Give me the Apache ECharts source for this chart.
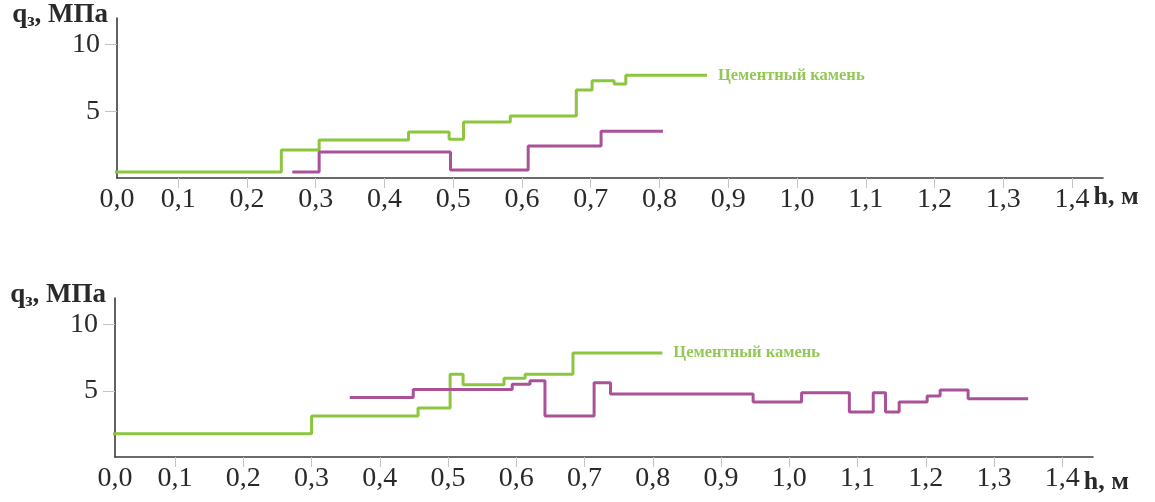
<!DOCTYPE html>
<html>
<head>
<meta charset="utf-8">
<script src="https://cdn.jsdelivr.net/npm/echarts@6/dist/echarts.min.js"></script>
<style>
  html, body { margin: 0; padding: 0; background: #fff; }
  #chart { width: 1155px; height: 502px; }
</style>
</head>
<body>
<div id="chart"></div>
<script>
// Step profiles: edges along h (m) and the pressure level (MPa) held between edges.
const topGreenEdges = [0, 0.25, 0.305, 0.435, 0.494, 0.515, 0.583, 0.679, 0.702, 0.734, 0.751, 0.869];
const topGreenLevels = [0.45, 2.1, 2.85, 3.45, 2.9, 4.2, 4.65, 6.6, 7.3, 7.05, 7.7];
const topPurpleEdges = [0.266, 0.305, 0.496, 0.609, 0.715, 0.805];
const topPurpleLevels = [0.45, 1.95, 0.6, 2.4, 3.5];

const botGreenEdges = [0, 0.30, 0.456, 0.503, 0.522, 0.582, 0.613, 0.683, 0.814];
const botGreenLevels = [1.75, 3.1, 3.7, 6.25, 5.45, 5.95, 6.25, 7.85];
const botPurpleEdges = [0.356, 0.449, 0.594, 0.62, 0.642, 0.714, 0.738, 0.947, 1.018, 1.088, 1.123, 1.141, 1.161, 1.202, 1.221, 1.262, 1.35];
const botPurpleLevels = [4.5, 5.1, 5.5, 5.75, 3.1, 5.6, 4.75, 4.15, 4.85, 3.4, 4.85, 3.4, 4.15, 4.6, 5.05, 4.4];

// The h axis starts a hair past zero; its origin carries the "0,0" label.
const topXMin = 0.011;
const botXMin = 0.012;
const xMax = 1.445;
const xTickValues = [0.1, 0.2, 0.3, 0.4, 0.5, 0.6, 0.7, 0.8, 0.9, 1.0, 1.1, 1.2, 1.3, 1.4];
const yTickValues = [5, 10];
const greenName = 'Цементный камень';

const GREEN = '#8cc63f';
const PURPLE = '#a9529a';
const SERIF = '"Liberation Serif", "DejaVu Serif", serif';

// Turn edges + levels into points for a step line that holds each level until the next edge.
function stepPoints(edges, levels) {
  const pts = [];
  for (let i = 0; i < levels.length; i++) pts.push([edges[i], levels[i]]);
  pts.push([edges[edges.length - 1], levels[levels.length - 1]]);
  return pts;
}

function xAxisFor(gridIndex, xMin, namePadTop) {
  const ticks = [xMin].concat(xTickValues);
  return {
    type: 'value', gridIndex: gridIndex, min: xMin, max: xMax,
    axisLine: { show: true, onZero: false, lineStyle: { color: '#3a3a3a', width: 1.6 } },
    axisTick: { show: true, customValues: xTickValues, length: 10, inside: false, lineStyle: { color: '#c4c4c4', width: 1 } },
    axisLabel: {
      customValues: ticks, margin: 8, color: '#2a2a2a', fontFamily: SERIF, fontSize: 28,
      formatter: v => v.toFixed(1).replace('.', ',')
    },
    splitLine: { show: false },
    name: 'h, м', nameLocation: 'end', nameGap: -10,
    nameTextStyle: { fontFamily: SERIF, fontWeight: 'bold', fontSize: 26, color: '#2a2a2a', align: 'left', verticalAlign: 'top', padding: [namePadTop, 0, 0, 0] }
  };
}

function yAxisFor(gridIndex, namePadTop) {
  return {
    type: 'value', gridIndex: gridIndex, min: 0, max: 12,
    axisLine: { show: true, lineStyle: { color: '#3a3a3a', width: 1.6 } },
    axisTick: { show: true, customValues: yTickValues, length: 12, lineStyle: { color: '#c4c4c4', width: 1 } },
    axisLabel: { customValues: yTickValues, margin: 17, color: '#2a2a2a', fontFamily: SERIF, fontSize: 28 },
    splitLine: { show: false },
    name: 'q{sub|з}, МПа', nameLocation: 'end', nameGap: 0,
    nameTextStyle: {
      fontFamily: SERIF, fontWeight: 'bold', fontSize: 27, color: '#2a2a2a',
      align: 'right', verticalAlign: 'middle', padding: [namePadTop, 9, 0, 0],
      rich: { sub: { fontFamily: SERIF, fontWeight: 'bold', fontSize: 18, color: '#2a2a2a', verticalAlign: 'bottom', padding: [14, 0, 0, 0] } }
    }
  };
}

function stepSeries(idx, data, color, withLabel) {
  const s = {
    type: 'line', xAxisIndex: idx, yAxisIndex: idx, step: 'end',
    data: data, symbol: 'none', silent: true, clip: true,
    lineStyle: { color: color, width: 3 }
  };
  if (withLabel) {
    s.endLabel = {
      show: true, formatter: greenName, distance: 11,
      color: '#94c856', fontFamily: SERIF, fontWeight: 'bold', fontSize: 16.5
    };
  }
  return s;
}

const chart = echarts.init(document.getElementById('chart'), null, { renderer: 'canvas' });
chart.setOption({
  animation: false,
  backgroundColor: '#ffffff',
  grid: [
    { left: 117, top: 18, width: 986, height: 160 },
    { left: 115, top: 298, width: 978, height: 159 }
  ],
  xAxis: [xAxisFor(0, topXMin, 6), xAxisFor(1, botXMin, 12)],
  yAxis: [yAxisFor(0, 4), yAxisFor(1, 8)],
  series: [
    stepSeries(0, stepPoints(topGreenEdges, topGreenLevels), GREEN, true),
    stepSeries(0, stepPoints(topPurpleEdges, topPurpleLevels), PURPLE, false),
    stepSeries(1, stepPoints(botGreenEdges, botGreenLevels), GREEN, true),
    stepSeries(1, stepPoints(botPurpleEdges, botPurpleLevels), PURPLE, false)
  ]
});
</script>
</body>
</html>
